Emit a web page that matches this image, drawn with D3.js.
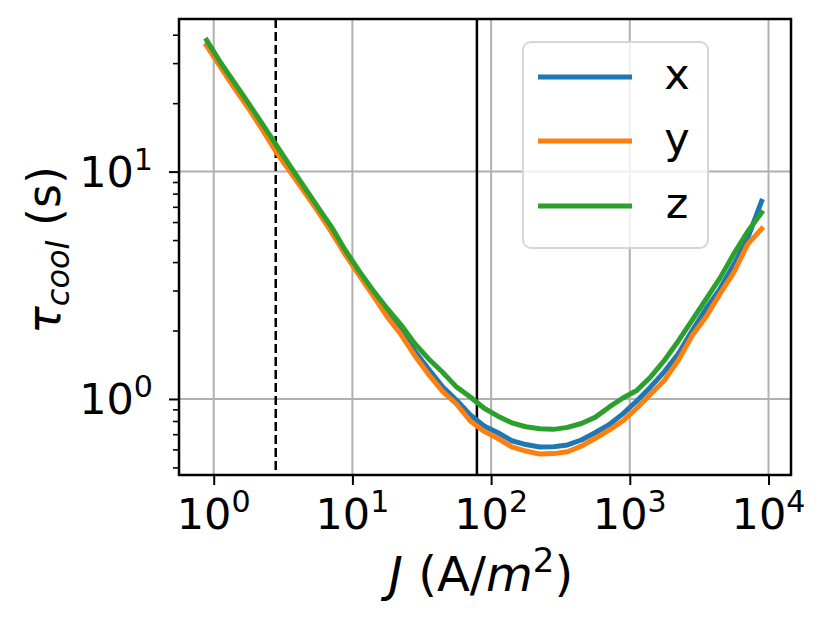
<!DOCTYPE html>
<html>
<head>
<meta charset="utf-8">
<script src="https://cdn.jsdelivr.net/npm/d3@7"></script>
<style>
  body { margin: 0; background: #fff; }
  svg text { font-family: "DejaVu Sans", sans-serif; }
</style>
</head>
<body>
<div id="vis-holder"></div>
<script>
// Current density J (A/m^2), shared by all three series
const jValues = [0.89, 1.12, 1.41, 1.78, 2.24, 2.82, 3.55, 4.47, 5.62, 7.08,
                 8.91, 11.2, 14.1, 17.8, 22.4, 28.2, 35.5, 44.7, 56.2, 70.8,
                 89.1, 112, 141, 178, 224, 282, 355, 447, 562, 708,
                 891, 1122, 1413, 1778, 2239, 2818, 3548, 4467, 5623, 7079, 8913];

// Cooling time (s) per axis
const tauX = [36.0, 29.0, 23.5, 19.2, 15.5, 12.4, 10.1, 8.3, 6.8, 5.5,
              4.4, 3.6, 2.95, 2.4, 2.0, 1.62, 1.35, 1.13, 0.99, 0.85,
              0.76, 0.71, 0.655, 0.63, 0.615, 0.617, 0.628, 0.66, 0.71, 0.77,
              0.86, 0.98, 1.13, 1.32, 1.58, 2.00, 2.50, 3.05, 3.90, 5.10, 7.4];
const tauY = [35.8, 28.8, 23.3, 19.0, 15.3, 12.2, 10.0, 8.2, 6.7, 5.4,
              4.3, 3.5, 2.85, 2.3, 1.92, 1.55, 1.28, 1.08, 0.95, 0.80,
              0.72, 0.67, 0.615, 0.59, 0.573, 0.575, 0.586, 0.62, 0.67, 0.73,
              0.80, 0.91, 1.05, 1.21, 1.48, 1.90, 2.30, 2.90, 3.60, 4.80, 5.6];
const tauZ = [37.8, 30.2, 24.6, 20.0, 16.2, 13.1, 10.6, 8.6, 7.0, 5.7,
              4.5, 3.65, 3.0, 2.5, 2.12, 1.75, 1.50, 1.31, 1.13, 1.02,
              0.91, 0.84, 0.785, 0.755, 0.74, 0.735, 0.75, 0.78, 0.83, 0.92,
              1.01, 1.09, 1.25, 1.48, 1.80, 2.22, 2.75, 3.40, 4.35, 5.45, 6.6];

const seriesNames = ["x", "y", "z"];
const seriesColors = ["#1f77b4", "#ff7f0e", "#2ca02c"];

// Reference lines
const dashedJ = 2.8;
const solidJ = 79;

// Ticks
const xTickExps = [0, 1, 2, 3, 4];
const yTickExps = [0, 1];
const yMinorTicks = [0.5, 0.6, 0.7, 0.8, 0.9, 2, 3, 4, 5, 6, 7, 8, 9, 20, 30, 40];

const width = 830;
const height = 627;
const margin = { top: 19, right: 39, bottom: 152, left: 179 };

const svg = d3.select("#vis-holder")
  .append("svg")
  .attr("width", width)
  .attr("height", height);

const x = d3.scaleLog()
  .domain([0.562, 14530])
  .range([margin.left, width - margin.right]);

const y = d3.scaleLog()
  .domain([0.463, 46.9])
  .range([height - margin.bottom, margin.top]);

const tickFont = 43;

// Grid lines
svg.append("g")
  .selectAll("line")
  .data(xTickExps)
  .enter()
  .append("line")
    .attr("x1", (d) => x(Math.pow(10, d)))
    .attr("x2", (d) => x(Math.pow(10, d)))
    .attr("y1", margin.top)
    .attr("y2", height - margin.bottom)
    .attr("stroke", "#b0b0b0")
    .attr("stroke-width", 2);

svg.append("g")
  .selectAll("line")
  .data(yTickExps)
  .enter()
  .append("line")
    .attr("x1", margin.left)
    .attr("x2", width - margin.right)
    .attr("y1", (d) => y(Math.pow(10, d)))
    .attr("y2", (d) => y(Math.pow(10, d)))
    .attr("stroke", "#b0b0b0")
    .attr("stroke-width", 2);

// Vertical reference lines
svg.append("line")
  .attr("x1", x(dashedJ)).attr("x2", x(dashedJ))
  .attr("y1", margin.top).attr("y2", height - margin.bottom)
  .attr("stroke", "black")
  .attr("stroke-width", 2.5)
  .attr("stroke-dasharray", "9,4");

svg.append("line")
  .attr("x1", x(solidJ)).attr("x2", x(solidJ))
  .attr("y1", margin.top).attr("y2", height - margin.bottom)
  .attr("stroke", "black")
  .attr("stroke-width", 2.5);

// Series lines
const allTau = [tauX, tauY, tauZ];
const line = d3.line()
  .x((d) => x(d[0]))
  .y((d) => y(d[1]));

allTau.forEach((tau, i) => {
  svg.append("path")
    .datum(jValues.map((j, k) => [j, tau[k]]))
    .attr("fill", "none")
    .attr("stroke", seriesColors[i])
    .attr("stroke-width", 5)
    .attr("stroke-linejoin", "round")
    .attr("stroke-linecap", "square")
    .attr("d", line);
});

// X axis
const xAxis = svg.append("g")
  .attr("transform", `translate(0,${height - margin.bottom})`)
  .call(d3.axisBottom(x)
    .tickValues(xTickExps.map((e) => Math.pow(10, e)))
    .tickSize(10)
    .tickFormat(""));
xAxis.select(".domain").remove();
xAxis.selectAll(".tick line").attr("stroke-width", 2);

xTickExps.forEach((e) => {
  const t = svg.append("text")
    .attr("x", x(Math.pow(10, e)))
    .attr("y", 529)
    .attr("text-anchor", "middle")
    .attr("font-size", tickFont);
  t.append("tspan").text("10");
  t.append("tspan").attr("dy", -17).attr("font-size", tickFont * 0.7).text(e);
});

// Y axis
const yAxis = svg.append("g")
  .attr("transform", `translate(${margin.left},0)`)
  .call(d3.axisLeft(y)
    .tickValues(yTickExps.map((e) => Math.pow(10, e)))
    .tickSize(10)
    .tickFormat(""));
yAxis.select(".domain").remove();
yAxis.selectAll(".tick line").attr("stroke-width", 2);

const yMinor = svg.append("g")
  .attr("transform", `translate(${margin.left},0)`)
  .call(d3.axisLeft(y)
    .tickValues(yMinorTicks)
    .tickSize(6)
    .tickFormat(""));
yMinor.select(".domain").remove();
yMinor.selectAll(".tick line").attr("stroke-width", 1.6);

yTickExps.forEach((e) => {
  const t = svg.append("text")
    .attr("x", 153)
    .attr("y", y(Math.pow(10, e)) + 15)
    .attr("text-anchor", "end")
    .attr("font-size", tickFont);
  t.append("tspan").text("10");
  t.append("tspan").attr("dy", -17).attr("font-size", tickFont * 0.7).text(e);
});

// Frame
svg.append("rect")
  .attr("x", margin.left)
  .attr("y", margin.top)
  .attr("width", width - margin.left - margin.right)
  .attr("height", height - margin.top - margin.bottom)
  .attr("fill", "none")
  .attr("stroke", "black")
  .attr("stroke-width", 2.5);

// Axis labels
const xLabel = svg.append("text")
  .attr("x", 481)
  .attr("y", 591)
  .attr("text-anchor", "middle")
  .attr("font-size", 48);
xLabel.append("tspan").attr("font-style", "italic").text("J");
xLabel.append("tspan").text(" (A/");
xLabel.append("tspan").attr("font-style", "italic").text("m");
xLabel.append("tspan").attr("dy", -19).attr("font-size", 34).text("2");
xLabel.append("tspan").attr("dy", 19).text(")");

const yLabel = svg.append("text")
  .attr("transform", "translate(60,250) rotate(-90)")
  .attr("text-anchor", "middle")
  .attr("font-size", 46);
yLabel.append("tspan").attr("font-style", "italic").text("τ");
yLabel.append("tspan").attr("dy", 9).attr("font-size", 32).attr("font-style", "italic").text("cool");
yLabel.append("tspan").attr("dy", -9).text(" (s)");

// Legend
const legend = svg.append("g");
legend.append("rect")
  .attr("x", 523).attr("y", 42)
  .attr("width", 185).attr("height", 206)
  .attr("rx", 8)
  .attr("fill", "white")
  .attr("fill-opacity", 0.8)
  .attr("stroke", "#d6d6d6")
  .attr("stroke-width", 2);

const legendY = [77, 141, 206];
seriesNames.forEach((name, i) => {
  legend.append("line")
    .attr("x1", 538).attr("x2", 632)
    .attr("y1", legendY[i]).attr("y2", legendY[i])
    .attr("stroke", seriesColors[i])
    .attr("stroke-width", 5);
  legend.append("text")
    .attr("x", 677)
    .attr("y", legendY[i] + 12)
    .attr("text-anchor", "middle")
    .attr("font-size", tickFont)
    .text(name);
});
</script>
</body>
</html>
